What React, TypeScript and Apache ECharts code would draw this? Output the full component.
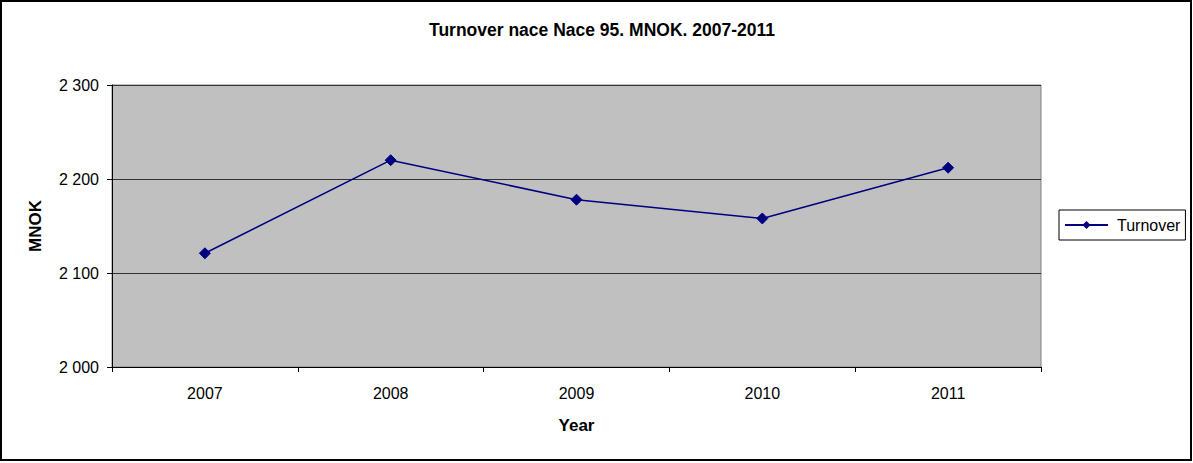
import React, { useEffect, useRef } from "react";
import * as echarts from "echarts";

const years = ["2007", "2008", "2009", "2010", "2011"];
const turnover = [2121, 2220, 2178, 2158, 2212];
const yMin = 2000;
const yMax = 2300;
const yStep = 100;

const FONT = "'Liberation Sans', Arial, sans-serif";

// "2300" -> "2 300"
const spaced = (v: number) => String(Math.round(v)).replace(/\B(?=(\d{3})+(?!\d))/g, " ");

export default function App() {
  const ref = useRef<HTMLDivElement>(null);

  useEffect(() => {
    document.body.style.margin = "0";
    const chart = echarts.init(ref.current!, undefined, { renderer: "svg" });
    chart.setOption({
      animation: false,
      backgroundColor: "#ffffff",
      textStyle: { fontFamily: FONT },
      title: {
        text: "Turnover nace Nace 95. MNOK. 2007-2011",
        left: 597,
        top: 16,
        textAlign: "center",
        textStyle: { fontFamily: FONT, fontSize: 17.5, fontWeight: "bold", color: "#000" },
      },
      graphic: [
        {
          type: "rect",
          shape: { x: 1, y: 1, width: 1190, height: 459 },
          style: { fill: "none", stroke: "#000", lineWidth: 2 },
          silent: true,
          z: 100,
        },
      ],
      legend: {
        data: ["Turnover"],
        left: 1059,
        top: 210,
        orient: "vertical",
        itemWidth: 43,
        itemHeight: 10,
        itemGap: 4,
        padding: [7, 5, 7, 5],
        borderColor: "#000",
        borderWidth: 1,
        textStyle: { fontFamily: FONT, fontSize: 16, color: "#000", padding: [0, 0, 0, 4] },
      },
      grid: {
        left: 112,
        top: 85,
        right: 152,
        bottom: 96,
        show: true,
        backgroundColor: "#C0C0C0",
        borderColor: "#808080",
        borderWidth: 1,
      },
      xAxis: {
        type: "category",
        data: years,
        boundaryGap: true,
        name: "Year",
        nameLocation: "middle",
        nameGap: 50,
        nameTextStyle: { fontFamily: FONT, fontSize: 17, fontWeight: "bold", color: "#000" },
        axisLine: { lineStyle: { color: "#000", width: 1 } },
        axisTick: { show: true, alignWithLabel: false, length: 5, lineStyle: { color: "#000" } },
        axisLabel: { fontFamily: FONT, fontSize: 16, color: "#000", margin: 18 },
        splitLine: { show: false },
      },
      yAxis: {
        type: "value",
        min: yMin,
        max: yMax,
        interval: yStep,
        name: "MNOK",
        nameLocation: "middle",
        nameGap: 68,
        nameRotate: 90,
        nameTextStyle: { fontFamily: FONT, fontSize: 17, fontWeight: "bold", color: "#000" },
        axisLine: { show: true, lineStyle: { color: "#000", width: 1 } },
        axisTick: { show: true, length: 5, lineStyle: { color: "#000" } },
        axisLabel: {
          fontFamily: FONT,
          fontSize: 16,
          color: "#000",
          margin: 13,
          formatter: spaced,
        },
        splitLine: { show: true, lineStyle: { color: "#333333", width: 1 } },
      },
      series: [
        {
          name: "Turnover",
          type: "line",
          data: turnover,
          symbol: "diamond",
          symbolSize: 11,
          lineStyle: { color: "#000080", width: 1.5 },
          itemStyle: { color: "#000080", borderColor: "#000080" },
          emphasis: { disabled: true },
        },
      ],
    });
    return () => chart.dispose();
  }, []);

  return <div ref={ref} style={{ width: 1193, height: 463 }} />;
}
